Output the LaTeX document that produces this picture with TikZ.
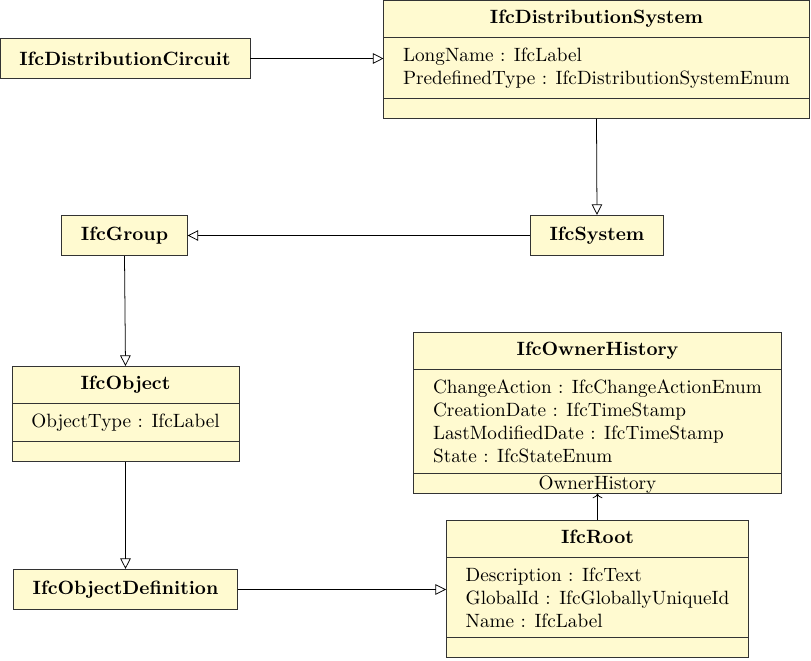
\documentclass[tikz,border=0pt]{standalone}
\usetikzlibrary{shapes.multipart,arrows.meta}
\definecolor{classfill}{RGB}{255,250,208}
\newcommand{\Title}[1]{\rule[-2pt]{0pt}{9pt}\textbf{#1}}
\newcommand{\NoOps}{\raisebox{0pt}[0pt][0pt]{\makebox[1pt]{}}}
\tikzset{
klass/.style={draw=black!80,fill=classfill,rectangle split,rectangle split parts=3,
  rectangle split part align={center,left,left},align=left,inner xsep=10pt,inner ysep=5pt,anchor=north},
kbox/.style={draw=black!80,fill=classfill,inner xsep=10pt,minimum height=21pt,font=\bfseries},
isa/.style={-{Triangle[open,length=5.5pt,width=5.5pt]}}
}
\begin{document}
\begin{tikzpicture}[x=.52pt,y=-.52pt]
\useasboundingbox(0,0)rectangle(811,661);
\node[kbox](circuit)at(125,58.5){IfcDistributionCircuit};
\node[klass](dsys)at(596.5,0){\Title{IfcDistributionSystem}
\nodepart{two}LongName : IfcLabel\\PredefinedType : IfcDistributionSystemEnum\nodepart{three}\NoOps};
\node[kbox](sys)at(597,235.5){IfcSystem};
\node[kbox](grp)at(124.5,235.5){IfcGroup};
\node[klass](obj)at(125.5,366){\Title{IfcObject}
\nodepart{two}ObjectType : IfcLabel\nodepart{three}\NoOps};
\node[kbox](objdef)at(125.5,589.5){IfcObjectDefinition};
\node[klass](hist)at(597.5,332){\Title{IfcOwnerHistory}
\nodepart{two}ChangeAction : IfcChangeActionEnum\\CreationDate : IfcTimeStamp\\
LastModifiedDate : IfcTimeStamp\\State : IfcStateEnum\nodepart{three}\NoOps};
\node[klass](root)at(597.5,520){\Title{IfcRoot}
\nodepart{two}Description : IfcText\\GlobalId : IfcGloballyUniqueId\\Name : IfcLabel\nodepart{three}\NoOps};
% generalisations
\draw[isa](circuit.east)--(circuit.east-|dsys.west);
\draw[isa](dsys.south)--(sys.north);
\draw[isa](sys.west)--(grp.east);
\draw[isa](grp.south)--(obj.north);
\draw[isa](obj.south)--(objdef.north);
\draw[isa](objdef.east)--(objdef.east-|root.west);
\draw[->](root.north)--node[pos=1,above,inner sep=0pt]{OwnerHistory}(hist.south);
\end{tikzpicture}
\end{document}
